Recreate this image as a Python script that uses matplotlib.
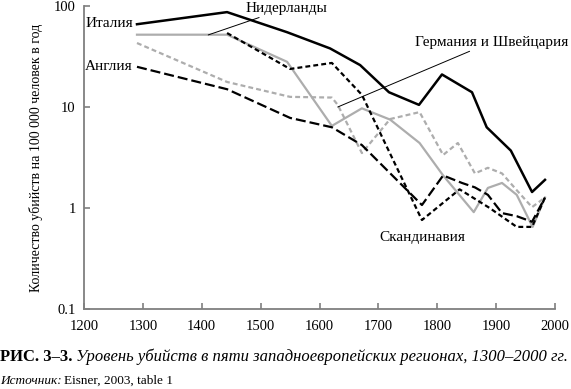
import numpy as np
import matplotlib
matplotlib.use("Agg")
import matplotlib.pyplot as plt

plt.rcParams['font.family'] = ['Liberation Serif', 'DejaVu Serif']

# Data
italy_years = [1290, 1443, 1545, 1618, 1669, 1718, 1769, 1808, 1859, 1884, 1925, 1961, 1983]
italy = [66, 87, 55, 38, 26, 14, 10.5, 21, 14, 6.3, 3.7, 1.44, 1.9]

england_years = [1290, 1443, 1550, 1621, 1672, 1774, 1810, 1842, 1864, 1886, 1910, 1935, 1961, 1983]
england = [25, 15, 7.8, 6.3, 4.2, 1.07, 2.1, 1.77, 1.6, 1.35, 0.89, 0.83, 0.73, 1.27]

netherlands_years = [1290, 1443, 1545, 1621, 1672, 1720, 1770, 1810, 1862, 1886, 1910, 1935, 1962, 1983]
netherlands = [52, 52, 28, 6.5, 9.7, 7.5, 4.4, 2.1, 0.91, 1.58, 1.77, 1.35, 0.65, 1.27]

germany_years = [1290, 1443, 1550, 1621, 1631, 1672, 1720, 1770, 1810, 1835, 1864, 1886, 1910, 1935, 1961, 1983]
germany = [43, 17.7, 12.6, 12.4, 10.5, 3.5, 7.6, 8.9, 3.35, 4.4, 2.2, 2.5, 2.2, 1.5, 1.02, 1.27]

scand_years = [1443, 1550, 1621, 1672, 1774, 1838, 1889, 1935, 1961, 1983]
scand = [54, 23.8, 27.3, 13.2, 0.76, 1.53, 1.0, 0.65, 0.65, 1.27]

x_ticks = [1200, 1300, 1400, 1500, 1600, 1700, 1800, 1900, 2000]
y_ticks = [0.1, 1, 10, 100]
y_ticklabels = ['0.1', '1', '10', '100']

gray = '#adadad'
axis_gray = '#7f7f7f'

fig = plt.figure(figsize=(5.71, 3.89), dpi=100)
ax = fig.add_axes([84 / 571, 1 - 309 / 389, 471 / 571, 303 / 389])

ax.plot(netherlands_years, netherlands, color=gray, lw=1.6)
ax.plot(germany_years, germany, color=gray, lw=1.6, linestyle=(0, (2.2, 1.4)))
ax.plot(england_years, england, color='black', lw=1.6, linestyle=(0, (4.5, 1.8)))
ax.plot(scand_years, scand, color='black', lw=1.6, linestyle=(0, (2.2, 1.4)))
ax.plot(italy_years, italy, color='black', lw=1.8)

ax.set_yscale('log')
ax.set_xlim(1200, 2000)
ax.set_ylim(0.1, 100)
ax.set_xticks(x_ticks)
ax.set_xticklabels([str(x) for x in x_ticks])
ax.set_yticks(y_ticks)
ax.set_yticklabels(y_ticklabels)
ax.yaxis.set_minor_locator(matplotlib.ticker.NullLocator())

for s in ['top', 'right']:
    ax.spines[s].set_visible(False)
for s in ['left', 'bottom']:
    ax.spines[s].set_color(axis_gray)
    ax.spines[s].set_linewidth(1.3)
ax.tick_params(direction='in', length=4, width=1.2, color=axis_gray, labelsize=10.5)
ax.tick_params(axis='x', pad=8)
ax.tick_params(axis='y', pad=6)

ax.set_ylabel('Количество убийств на 100 000 человек в год', fontsize=10)
ax.yaxis.set_label_coords(-0.088, 0.5)

# series labels
ax.text(1283, 67, 'Италия', fontsize=11, ha='right', va='center')
ax.text(1283, 25, 'Англия', fontsize=11, ha='right', va='center')
ax.annotate('Нидерланды', xy=(1411, 51.7), xytext=(1474, 95),
            fontsize=11, ha='left', va='center',
            arrowprops=dict(arrowstyle='-', color='black', lw=0.7, shrinkA=0, shrinkB=0))
ax.annotate('Германия и Швейцария', xy=(1631, 10), xytext=(1762, 44),
            fontsize=11, ha='left', va='center',
            arrowprops=dict(arrowstyle='-', color='black', lw=0.7, shrinkA=0, shrinkB=0))
ax.text(1774, 0.51, 'Скандинавия', fontsize=11, ha='center', va='center')

# caption
t1 = fig.text(0.0, 1 - 357 / 389, 'РИС. 3–3.', fontsize=12, fontweight='bold', va='center', ha='left')
t3 = fig.text(0.0, 1 - 381 / 389, 'Источник:', fontsize=9.5, style='italic', va='center', ha='left')
fig.canvas.draw()
r = fig.canvas.get_renderer()
b1 = t1.get_window_extent(r)
b3 = t3.get_window_extent(r)
fig.text(b1.x1 / fig.bbox.width + 0.006, 1 - 357 / 389,
         'Уровень убийств в пяти западноевропейских регионах, 1300–2000 гг.',
         fontsize=12, style='italic', va='center', ha='left')
fig.text(b3.x1 / fig.bbox.width + 0.004, 1 - 381 / 389, 'Eisner, 2003, table 1',
         fontsize=9.5, va='center', ha='left')

fig.savefig('out.png', dpi=100)
